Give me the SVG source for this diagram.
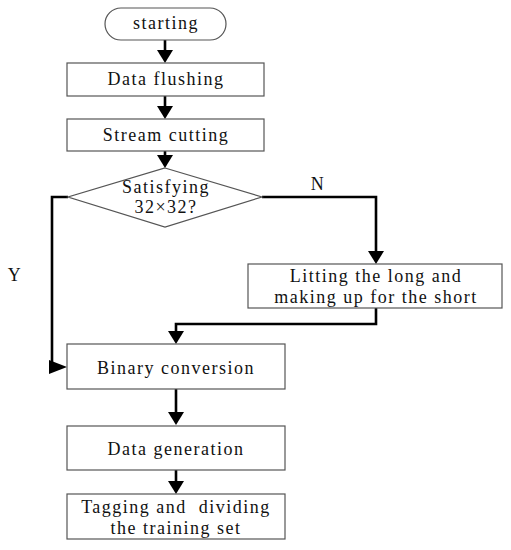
<svg xmlns="http://www.w3.org/2000/svg" width="511" height="550" viewBox="0 0 511 550">
<style>
.box{fill:#fff;stroke:#555;stroke-width:1.2}
.t{font-family:"Liberation Serif","Times New Roman",serif;font-size:18px;letter-spacing:1.5px;fill:#111;text-anchor:middle;white-space:pre}
.c{fill:none;stroke:#000;stroke-width:2.6}
</style>
<defs>
<marker id="ah" markerUnits="userSpaceOnUse" markerWidth="14" markerHeight="16" refX="0" refY="8" orient="auto" overflow="visible">
<path d="M0,0 L13,8 L0,16 Z" fill="#000"/>
</marker>
</defs>
<rect width="511" height="550" fill="#fff"/>
<g id="connectors">
<path class="c" d="M165,40 V50" marker-end="url(#ah)"/>
<path class="c" d="M165,96 V106" marker-end="url(#ah)"/>
<path class="c" d="M165,151 V155" marker-end="url(#ah)"/>
<path class="c" d="M262,197 H376 V251" marker-end="url(#ah)"/>
<path class="c" d="M376,308 V324 H176 V331" marker-end="url(#ah)"/>
<path class="c" d="M68,197 H52 V367 H52"/>
<polygon points="49,360 67,367 49,374" fill="#000"/>
<path class="c" d="M176,389 V412" marker-end="url(#ah)"/>
<path class="c" d="M176,470 V481" marker-end="url(#ah)"/>
<text class="t" x="318" y="190">N</text>
<text class="t" x="15" y="281">Y</text>
</g>
<g id="start">
<rect class="box" x="105" y="8" width="121" height="32" rx="16" ry="16"/>
<text class="t" x="166" y="29">starting</text>
</g>
<g id="flush">
<rect class="box" x="67" y="63" width="197" height="33"/>
<text class="t" x="166" y="85">Data flushing</text>
</g>
<g id="cut">
<rect class="box" x="67" y="119" width="197" height="32"/>
<text class="t" x="166" y="141">Stream cutting</text>
</g>
<g id="decision">
<polygon class="box" points="165,168 262,197 165,227 68,197"/>
<text class="t" x="166" y="193">Satisfying</text>
<text class="t" x="166" y="213">32×32?</text>
</g>
<g id="fix">
<rect class="box" x="248" y="264" width="254" height="44"/>
<text class="t" x="376" y="282">Litting the long and</text>
<text class="t" x="376" y="303">making up for the short</text>
</g>
<g id="binary">
<rect class="box" x="67" y="344" width="218" height="45"/>
<text class="t" x="176" y="374">Binary conversion</text>
</g>
<g id="gen">
<rect class="box" x="67" y="426" width="218" height="44"/>
<text class="t" x="176" y="455">Data generation</text>
</g>
<g id="tag">
<rect class="box" x="67" y="494" width="218" height="45"/>
<text class="t" x="176" y="513" xml:space="preserve">Tagging and  dividing</text>
<text class="t" x="176" y="534">the training set</text>
</g>
</svg>
